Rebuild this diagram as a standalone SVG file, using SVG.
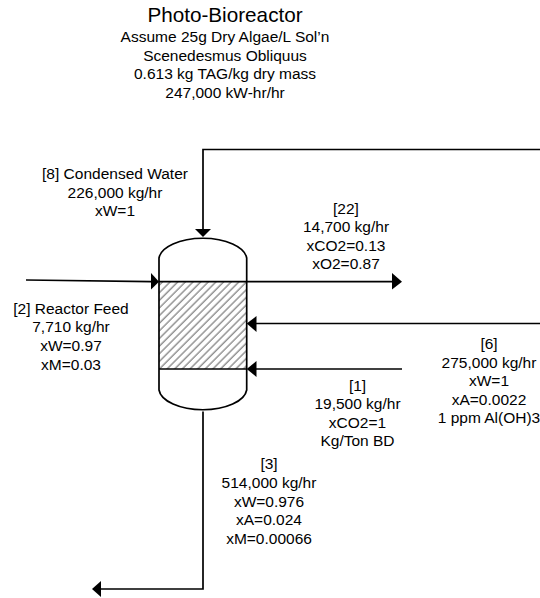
<svg xmlns="http://www.w3.org/2000/svg" width="540" height="598" viewBox="0 0 540 598">
<style>
text{font-family:"Liberation Sans",Arial,sans-serif;font-size:15.5px;fill:#000;text-anchor:middle}
.t{font-size:20.7px}
.l{fill:none;stroke:#000;stroke-width:1.7}
.a{fill:#000;stroke:none}
</style>
<defs>
<pattern id="h" patternUnits="userSpaceOnUse" width="5.400" height="5.400" patternTransform="rotate(-45)">
<rect width="5.400" height="5.400" fill="#fff"/>
<line x1="0" y1="1" x2="5.400" y2="1" stroke="#333" stroke-width="0.8"/>
</pattern>
</defs>
<rect width="540" height="598" fill="#fff"/>
<g id="reactor">
<rect x="159" y="282" width="87.700" height="87" fill="url(#h)"/>
<path class="l" d="M159 258A44 21.500 0 0 1 246.700 258V390A44 21.500 0 0 1 159 390Z"/>
<line class="l" x1="159" y1="369" x2="246.700" y2="369"/>
</g>
<g id="connectors">
<polyline class="l" points="540,149.500 203,149.500 203,229"/>
<polygon class="a" points="195,229 211,229 203,237"/>
<polyline class="l" points="26,280 151,281.700"/>
<polygon class="a" points="151,273 159,281.700 151,289.500"/>
<line class="l" x1="159" y1="281.700" x2="392" y2="281.700"/>
<polygon class="a" points="392,273 402,281.700 392,289.500"/>
<line class="l" x1="256" y1="323.500" x2="540" y2="323.500"/>
<polygon class="a" points="256.500,316 246.700,323.500 256.500,332"/>
<line class="l" x1="256" y1="369" x2="402" y2="369"/>
<polygon class="a" points="256.500,361 246.700,369 256.500,377"/>
<polyline class="l" points="203,411.500 203,589 100,589"/>
<polygon class="a" points="101,581 92,589 101,597"/>
</g>
<g id="title">
<text class="t" x="225" y="22">Photo-Bioreactor</text>
<text x="225" y="41.500">Assume 25g Dry Algae/L Sol’n</text>
<text x="225" y="60.500">Scenedesmus Obliquus</text>
<text x="225" y="79">0.613 kg TAG/kg dry mass</text>
<text x="225" y="97.500">247,000 kW-hr/hr</text>
</g>
<g id="s8">
<text x="115" y="179">[8] Condensed Water</text>
<text x="115" y="197.500">226,000 kg/hr</text>
<text x="115" y="216">xW=1</text>
</g>
<g id="s22">
<text x="346" y="214">[22]</text>
<text x="346" y="232">14,700 kg/hr</text>
<text x="346" y="250.500">xCO2=0.13</text>
<text x="346" y="269">xO2=0.87</text>
</g>
<g id="s2">
<text x="71" y="314">[2] Reactor Feed</text>
<text x="71" y="332">7,710 kg/hr</text>
<text x="71" y="351">xW=0.97</text>
<text x="71" y="370">xM=0.03</text>
</g>
<g id="s6">
<text x="489" y="349">[6]</text>
<text x="489" y="367.500">275,000 kg/hr</text>
<text x="489" y="386">xW=1</text>
<text x="489" y="404.500">xA=0.0022</text>
<text x="489" y="423">1 ppm Al(OH)3</text>
</g>
<g id="s1">
<text x="357.500" y="390.500">[1]</text>
<text x="357.500" y="409">19,500 kg/hr</text>
<text x="357.500" y="427.500">xCO2=1</text>
<text x="357.500" y="446">Kg/Ton BD</text>
</g>
<g id="s3">
<text x="269" y="469">[3]</text>
<text x="269" y="488">514,000 kg/hr</text>
<text x="269" y="506.500">xW=0.976</text>
<text x="269" y="525">xA=0.024</text>
<text x="269" y="544">xM=0.00066</text>
</g>
</svg>
